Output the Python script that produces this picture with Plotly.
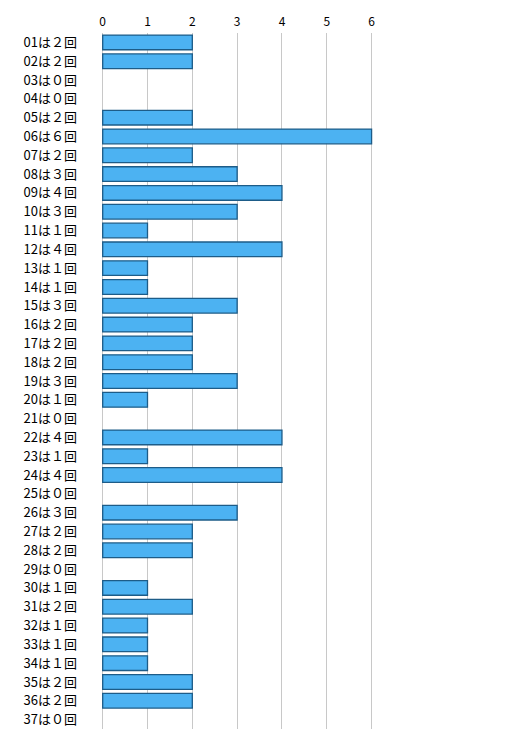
import plotly.graph_objects as go

numbers = [f"{i:02d}" for i in range(1, 38)]
counts = [2, 2, 0, 0, 2, 6, 2, 3, 4, 3, 1, 4, 1, 1, 3, 2, 2, 2, 3, 1,
          0, 4, 1, 4, 0, 3, 2, 2, 0, 1, 2, 1, 1, 1, 2, 2, 0]
x_ticks = [0, 1, 2, 3, 4, 5, 6]

fw = str.maketrans("0123456789", "０１２３４５６７８９")
labels = [f"{n}は{str(c).translate(fw)}回" for n, c in zip(numbers, counts)]

fig = go.Figure()
fig.add_trace(go.Bar(
    x=counts, y=labels, orientation="h",
    marker=dict(color="#4cb2f2",
                line=dict(color="#1d5c88", width=[1.3 if c > 0 else 0 for c in counts])),
    hoverinfo="x+y",
))
fig.update_layout(
    width=517, height=739,
    margin=dict(l=79, r=131, t=25, b=18),
    paper_bgcolor="white", plot_bgcolor="white",
    font=dict(family="Noto Sans CJK JP, sans-serif", size=13, color="#000"),
    bargap=0.22, showlegend=False,
    xaxis=dict(side="top", range=[-0.35, 6.5], tickvals=x_ticks,
               showgrid=True, gridcolor="#c8c8c8", gridwidth=1,
               zeroline=False, showline=False, ticks="",
               ticklabelstandoff=4, automargin=False,
               tickfont=dict(size=12)),
    yaxis=dict(categoryorder="array", categoryarray=labels, autorange="reversed",
               showgrid=False, zeroline=False, showline=False, ticks="",
               ticklabelstandoff=9, automargin=False, tickfont=dict(size=13)),
)
fig.write_html("out.html")
